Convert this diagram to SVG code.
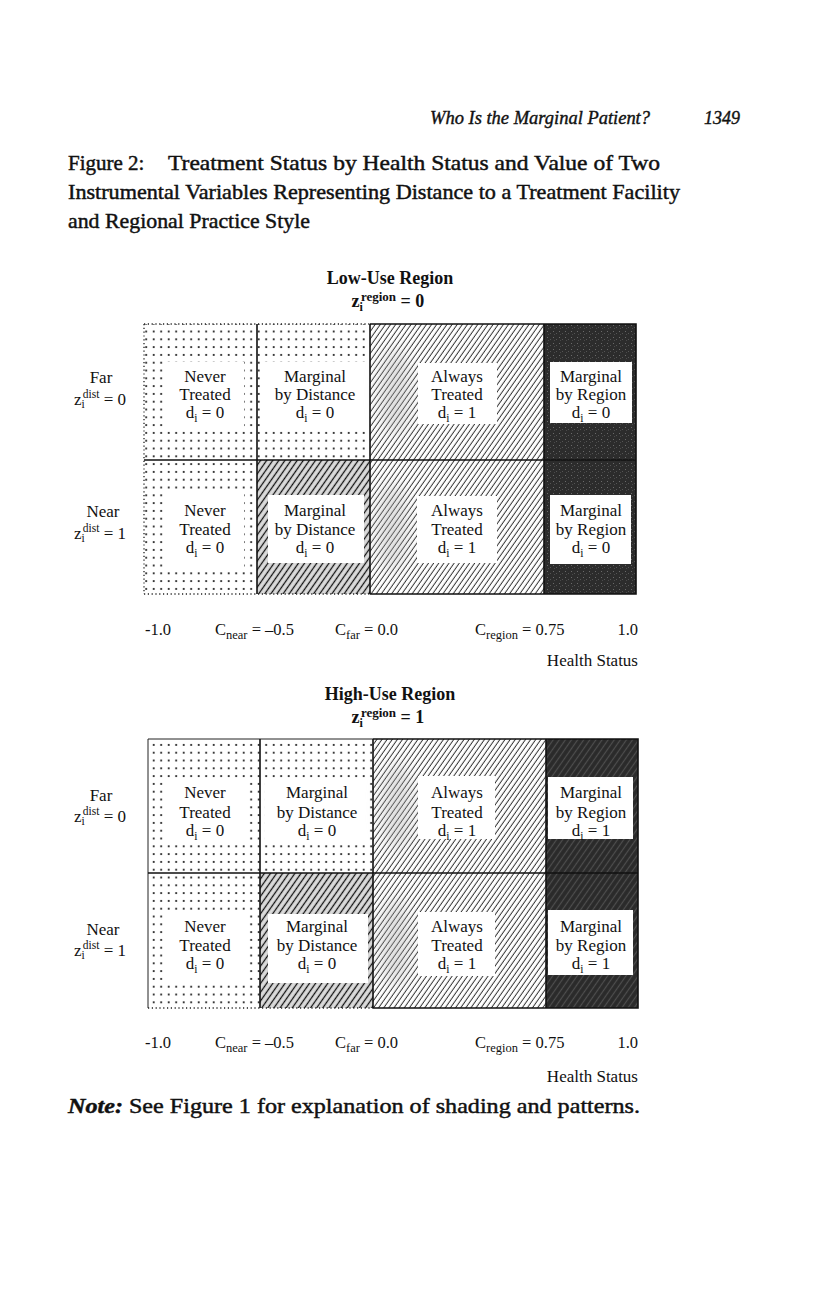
<svg xmlns="http://www.w3.org/2000/svg" width="816" height="1309" viewBox="0 0 816 1309">
<defs>
<style>
text{font-family:"Liberation Serif","Times New Roman",serif;fill:#111}
.cell{font-size:17px;text-anchor:middle}
.lab{font-size:17px;text-anchor:middle}
.zl{font-size:17px}
.ax{font-size:16.5px}
.sub{font-size:11.5px}
.asub{font-size:12.5px}
.box{fill:#fff}
.line{fill:none;stroke:#111;stroke-width:1.6}
.thin{fill:none;stroke:#222;stroke-width:1}
.dotted{fill:none;stroke:#222;stroke-width:1.3;stroke-dasharray:1.2 2.6}
.title{font-size:21px;stroke:#111;stroke-width:0.45}
.rt{font-size:18px;font-weight:bold;text-anchor:middle}
.gblur{fill:#aaa;opacity:0.35}
</style>
<pattern id="dots" width="7.5" height="7.8" patternUnits="userSpaceOnUse">
<rect width="7.5" height="7.8" fill="#fff"/>
<circle cx="3.7" cy="3.9" r="1.05" fill="#111"/>
</pattern>
<pattern id="hatch" width="4.2" height="10" patternUnits="userSpaceOnUse" patternTransform="rotate(35)">
<rect width="4.2" height="10" fill="#fff"/>
<line x1="2" y1="0" x2="2" y2="10" stroke="#222" stroke-width="0.9"/>
</pattern>
<pattern id="grayhatch" width="5" height="10" patternUnits="userSpaceOnUse" patternTransform="rotate(35)">
<rect width="5" height="10" fill="#dcdcdc"/>
<line x1="2.5" y1="0" x2="2.5" y2="10" stroke="#111" stroke-width="1.3"/>
</pattern>
<pattern id="dark" width="6" height="6" patternUnits="userSpaceOnUse">
<rect width="6" height="6" fill="#2c2c2c"/>
<rect x="1" y="1" width="1" height="1" fill="#6a6a6a"/>
<rect x="4" y="3" width="1" height="1" fill="#555"/>
<rect x="2" y="4" width="1" height="1" fill="#4a4a4a"/>
</pattern>
<pattern id="darkhatch" width="5" height="10" patternUnits="userSpaceOnUse" patternTransform="rotate(35)">
<rect width="5" height="10" fill="#2a2a2a"/>
<line x1="2.5" y1="0" x2="2.5" y2="10" stroke="#4e4e4e" stroke-width="1.2"/>
</pattern>
<filter id="blur" x="-60%" y="-60%" width="220%" height="220%"><feGaussianBlur stdDeviation="8"/></filter>
</defs>
<rect width="816" height="1309" fill="#fff"/>

<g id="header">
<text x="430" y="124" font-size="19" font-style="italic" stroke="#111" stroke-width="0.4" textLength="220" lengthAdjust="spacingAndGlyphs">Who Is the Marginal Patient?</text>
<text x="704" y="124" font-size="19" font-style="italic" stroke="#111" stroke-width="0.4" textLength="36" lengthAdjust="spacingAndGlyphs">1349</text>
</g>

<g id="figure-title">
<text class="title" x="68" y="170">Figure 2:</text>
<text class="title" x="168" y="170" textLength="492" lengthAdjust="spacingAndGlyphs">Treatment Status by Health Status and Value of Two</text>
<text class="title" x="68" y="199" textLength="612" lengthAdjust="spacingAndGlyphs">Instrumental Variables Representing Distance to a Treatment Facility</text>
<text class="title" x="68" y="228" textLength="242" lengthAdjust="spacingAndGlyphs">and Regional Practice Style</text>
</g>

<!-- ============ LOW-USE REGION ============ -->
<g id="low-title">
<text class="rt" x="390" y="284">Low-Use Region</text>
<text class="rt" x="388" y="307">z<tspan font-size="12" dy="4">i</tspan><tspan font-size="13" dx="-2" dy="-10">region</tspan><tspan dy="6"> = 0</tspan></text>
</g>

<g id="low-far-label">
<text class="lab" x="101" y="383">Far</text>
<text class="zl" x="74" y="405">z<tspan class="sub" dy="3">i</tspan><tspan class="sub" dx="-2" dy="-10">dist</tspan><tspan dy="7"> = 0</tspan></text>
</g>
<g id="low-near-label">
<text class="lab" x="103" y="517">Near</text>
<text class="zl" x="74" y="539">z<tspan class="sub" dy="3">i</tspan><tspan class="sub" dx="-2" dy="-10">dist</tspan><tspan dy="7"> = 1</tspan></text>
</g>

<g id="low-far-never">
<rect x="144" y="324" width="113" height="136" fill="url(#dots)"/>
<rect class="box" x="166" y="362" width="78" height="66"/>
<text class="cell" x="205" y="382">Never</text>
<text class="cell" x="205" y="400">Treated</text>
<text class="cell" x="205" y="418">d<tspan class="sub" dy="4">i</tspan><tspan dy="-4"> = 0</tspan></text>
</g>
<g id="low-far-margdist">
<rect x="257" y="324" width="113" height="136" fill="url(#dots)"/>
<rect class="box" x="264" y="362" width="102" height="66"/>
<text class="cell" x="315" y="382">Marginal</text>
<text class="cell" x="315" y="400">by Distance</text>
<text class="cell" x="315" y="418">d<tspan class="sub" dy="4">i</tspan><tspan dy="-4"> = 0</tspan></text>
</g>
<g id="low-far-always">
<rect x="370" y="324" width="174" height="136" fill="url(#hatch)"/>
<ellipse class="gblur" cx="395" cy="392" rx="16" ry="44" filter="url(#blur)"/>
<rect class="box" x="418" y="363" width="79" height="61"/>
<text class="cell" x="457" y="382">Always</text>
<text class="cell" x="457" y="400">Treated</text>
<text class="cell" x="457" y="418">d<tspan class="sub" dy="4">i</tspan><tspan dy="-4"> = 1</tspan></text>
</g>
<g id="low-far-margregion">
<rect x="544" y="324" width="92" height="136" fill="url(#dark)"/>
<rect class="box" x="550" y="362" width="82" height="61"/>
<text class="cell" x="591" y="382">Marginal</text>
<text class="cell" x="591" y="400">by Region</text>
<text class="cell" x="591" y="418">d<tspan class="sub" dy="4">i</tspan><tspan dy="-4"> = 0</tspan></text>
</g>

<g id="low-near-never">
<rect x="144" y="460" width="113" height="134" fill="url(#dots)"/>
<rect class="box" x="165" y="489" width="79" height="80"/>
<text class="cell" x="205" y="516">Never</text>
<text class="cell" x="205" y="535">Treated</text>
<text class="cell" x="205" y="553">d<tspan class="sub" dy="4">i</tspan><tspan dy="-4"> = 0</tspan></text>
</g>
<g id="low-near-margdist">
<rect x="257" y="460" width="113" height="134" fill="url(#grayhatch)"/>
<rect class="box" x="268" y="495" width="96" height="68"/>
<text class="cell" x="315" y="516">Marginal</text>
<text class="cell" x="315" y="535">by Distance</text>
<text class="cell" x="315" y="553">d<tspan class="sub" dy="4">i</tspan><tspan dy="-4"> = 0</tspan></text>
</g>
<g id="low-near-always">
<rect x="370" y="460" width="174" height="134" fill="url(#hatch)"/>
<ellipse class="gblur" cx="392" cy="527" rx="16" ry="44" filter="url(#blur)"/>
<rect class="box" x="417" y="496" width="80" height="67"/>
<text class="cell" x="457" y="516">Always</text>
<text class="cell" x="457" y="535">Treated</text>
<text class="cell" x="457" y="553">d<tspan class="sub" dy="4">i</tspan><tspan dy="-4"> = 1</tspan></text>
</g>
<g id="low-near-margregion">
<rect x="544" y="460" width="92" height="134" fill="url(#dark)"/>
<rect class="box" x="550" y="495" width="81" height="69"/>
<text class="cell" x="591" y="516">Marginal</text>
<text class="cell" x="591" y="535">by Region</text>
<text class="cell" x="591" y="553">d<tspan class="sub" dy="4">i</tspan><tspan dy="-4"> = 0</tspan></text>
</g>

<g id="low-grid-lines">
<path class="dotted" d="M144,324 H370 M144,324 V594 M144,594 H370"/>
<path class="line" d="M370,324 H636 V594 H370"/>
<path class="line" d="M257,324 V594 M370,324 V594 M544,324 V594 M144,460 H636"/>
</g>

<g id="low-axis">
<text class="ax" x="145" y="635">-1.0</text>
<text class="ax" x="215" y="635">C<tspan class="asub" dy="4">near</tspan><tspan dy="-4"> = –0.5</tspan></text>
<text class="ax" x="335" y="635">C<tspan class="asub" dy="4">far</tspan><tspan dy="-4"> = 0.0</tspan></text>
<text class="ax" x="475" y="635">C<tspan class="asub" dy="4">region</tspan><tspan dy="-4"> = 0.75</tspan></text>
<text class="ax" x="638" y="635" text-anchor="end">1.0</text>
<text x="638" y="666" font-size="17" text-anchor="end">Health Status</text>
</g>

<!-- ============ HIGH-USE REGION ============ -->
<g id="high-title">
<text class="rt" x="390" y="700">High-Use Region</text>
<text class="rt" x="388" y="723">z<tspan font-size="12" dy="4">i</tspan><tspan font-size="13" dx="-2" dy="-10">region</tspan><tspan dy="6"> = 1</tspan></text>
</g>

<g id="high-far-label">
<text class="lab" x="101" y="801">Far</text>
<text class="zl" x="74" y="822">z<tspan class="sub" dy="3">i</tspan><tspan class="sub" dx="-2" dy="-10">dist</tspan><tspan dy="7"> = 0</tspan></text>
</g>
<g id="high-near-label">
<text class="lab" x="103" y="935">Near</text>
<text class="zl" x="74" y="956">z<tspan class="sub" dy="3">i</tspan><tspan class="sub" dx="-2" dy="-10">dist</tspan><tspan dy="7"> = 1</tspan></text>
</g>

<g id="high-far-never">
<rect x="148" y="739" width="112" height="134" fill="url(#dots)"/>
<rect class="box" x="163" y="778" width="85" height="67"/>
<text class="cell" x="205" y="798">Never</text>
<text class="cell" x="205" y="818">Treated</text>
<text class="cell" x="205" y="836">d<tspan class="sub" dy="4">i</tspan><tspan dy="-4"> = 0</tspan></text>
</g>
<g id="high-far-margdist">
<rect x="260" y="739" width="113" height="134" fill="url(#dots)"/>
<rect class="box" x="265" y="778" width="103" height="67"/>
<text class="cell" x="317" y="798">Marginal</text>
<text class="cell" x="317" y="818">by Distance</text>
<text class="cell" x="317" y="836">d<tspan class="sub" dy="4">i</tspan><tspan dy="-4"> = 0</tspan></text>
</g>
<g id="high-far-always">
<rect x="373" y="739" width="173" height="134" fill="url(#hatch)"/>
<ellipse class="gblur" cx="397" cy="807" rx="16" ry="44" filter="url(#blur)"/>
<rect class="box" x="418" y="776" width="77" height="63"/>
<text class="cell" x="457" y="798">Always</text>
<text class="cell" x="457" y="818">Treated</text>
<text class="cell" x="457" y="836">d<tspan class="sub" dy="4">i</tspan><tspan dy="-4"> = 1</tspan></text>
</g>
<g id="high-far-margregion">
<rect x="546" y="739" width="92" height="134" fill="url(#darkhatch)"/>
<rect class="box" x="548" y="777" width="85" height="62"/>
<text class="cell" x="591" y="798">Marginal</text>
<text class="cell" x="591" y="818">by Region</text>
<text class="cell" x="591" y="836">d<tspan class="sub" dy="4">i</tspan><tspan dy="-4"> = 1</tspan></text>
</g>

<g id="high-near-never">
<rect x="148" y="873" width="112" height="135" fill="url(#dots)"/>
<rect class="box" x="163" y="912" width="85" height="73"/>
<text class="cell" x="205" y="932">Never</text>
<text class="cell" x="205" y="951">Treated</text>
<text class="cell" x="205" y="969">d<tspan class="sub" dy="4">i</tspan><tspan dy="-4"> = 0</tspan></text>
</g>
<g id="high-near-margdist">
<rect x="260" y="873" width="113" height="135" fill="url(#grayhatch)"/>
<rect class="box" x="268" y="914" width="100" height="69"/>
<text class="cell" x="317" y="932">Marginal</text>
<text class="cell" x="317" y="951">by Distance</text>
<text class="cell" x="317" y="969">d<tspan class="sub" dy="4">i</tspan><tspan dy="-4"> = 0</tspan></text>
</g>
<g id="high-near-always">
<rect x="373" y="873" width="173" height="135" fill="url(#hatch)"/>
<ellipse class="gblur" cx="395" cy="942" rx="16" ry="44" filter="url(#blur)"/>
<rect class="box" x="418" y="912" width="77" height="64"/>
<text class="cell" x="457" y="932">Always</text>
<text class="cell" x="457" y="951">Treated</text>
<text class="cell" x="457" y="969">d<tspan class="sub" dy="4">i</tspan><tspan dy="-4"> = 1</tspan></text>
</g>
<g id="high-near-margregion">
<rect x="546" y="873" width="92" height="135" fill="url(#darkhatch)"/>
<rect class="box" x="548" y="910" width="85" height="65"/>
<text class="cell" x="591" y="932">Marginal</text>
<text class="cell" x="591" y="951">by Region</text>
<text class="cell" x="591" y="969">d<tspan class="sub" dy="4">i</tspan><tspan dy="-4"> = 1</tspan></text>
</g>

<g id="high-grid-lines">
<path class="thin" d="M148,739 H373 M148,739 V1008"/>
<path class="dotted" d="M148,1008 H373"/>
<path class="line" d="M373,739 H638 V1008 H373"/>
<path class="line" d="M260,739 V1008 M373,739 V1008 M546,739 V1008 M148,873 H638"/>
</g>

<g id="high-axis">
<text class="ax" x="145" y="1048">-1.0</text>
<text class="ax" x="215" y="1048">C<tspan class="asub" dy="4">near</tspan><tspan dy="-4"> = –0.5</tspan></text>
<text class="ax" x="335" y="1048">C<tspan class="asub" dy="4">far</tspan><tspan dy="-4"> = 0.0</tspan></text>
<text class="ax" x="475" y="1048">C<tspan class="asub" dy="4">region</tspan><tspan dy="-4"> = 0.75</tspan></text>
<text class="ax" x="638" y="1048" text-anchor="end">1.0</text>
<text x="638" y="1082" font-size="17" text-anchor="end">Health Status</text>
</g>

<g id="note">
<text class="title" x="68" y="1113" textLength="572" lengthAdjust="spacingAndGlyphs"><tspan font-style="italic" font-weight="bold">Note:</tspan> See Figure 1 for explanation of shading and patterns.</text>
</g>
</svg>
